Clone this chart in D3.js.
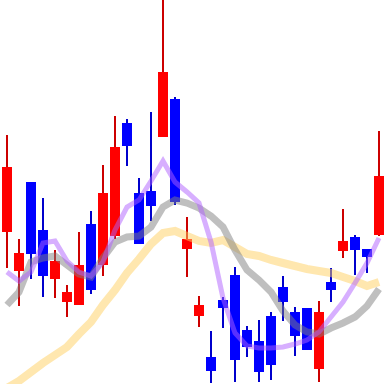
<!DOCTYPE html>
<html>
<head>
<meta charset="utf-8">
<script src="https://cdn.jsdelivr.net/npm/d3@7"></script>
<style>
  body { margin: 0; background: #fff; }
  svg { display: block; }
</style>
</head>
<body>
<div class="content-container"></div>
<script>
    // candle data (price units)
    const opens  = [152, 113, 202, 154, 105,  82,  79, 160, 119, 148, 261, 191, 193, 247, 285, 135,  68,  27,  84, 109,  54,  43,  68,  97,  72,  76,  15, 102, 133, 147, 135, 149];
    const highs  = [249, 145, 202, 186, 134,  99, 152, 173, 219, 268, 265, 206, 272, 394, 287, 167,  88,  53,  87, 117,  58,  64,  72, 108,  77,  76,  83, 116, 175, 149, 135, 253];
    const lows   = [116,  78, 105,  87,  86,  67,  79,  90, 108, 145, 218, 140, 163, 247, 179, 107,  57,   1,  56,   2,  27,   2,   4,  63,  28,  34,   2,  82, 126, 109, 111, 148];
    const closes = [217, 131, 130, 108, 123,  92, 119,  94, 191, 237, 238, 140, 178, 312, 182, 145,  79,  13,  76,  24,  37,  12,  19,  82,  48,  34,  72,  94, 143, 134, 127, 208];

    // moving averages at each candle
    const maShort = [112, 103, 112, 141, 143, 123, 112, 108, 122, 154, 177, 184, 203, 223, 202, 192, 181, 142,  86,  51,  38,  36,  36,  37,  40,  44,  52,  67,  82, 101, 121, 146];
    const maMid   = [ 79,  92, 122, 126, 128, 119, 110, 107, 126, 142, 147, 148, 157, 177, 184, 181, 176, 168, 157, 134, 114, 104,  92,  73,  59,  52,  50,  56,  61,  67,  78,  95];
    const maLong  = [ -4,   3,  12,  21,  29,  37,  50,  62,  79,  94, 111, 125, 140, 151, 153, 148, 143, 141, 144, 137, 130, 128, 124, 121, 118, 115, 113, 111, 107, 103,  98, 102];

    const width = 384;
    const height = 384;

    const candles = opens.map(function(o, i) {
      return { i: i, open: o, high: highs[i], low: lows[i], close: closes[i] };
    });

    //SCALES

    const xScale = d3.scaleBand()
                     .domain(d3.range(candles.length))
                     .range([1, width + 1])
                     .paddingInner(1 / 6)
                     .paddingOuter(1 / 12);

    const yScale = d3.scaleLinear()
                     .domain([0, 384])
                     .range([height, 0]);

    const cx = (i) => xScale(i) + xScale.bandwidth() / 2;

    const chart = d3.select(".content-container")
                  .append("svg")
                  .attr("width", width)
                  .attr("height", height);

    //CANDLES

    const up = (d) => d.close >= d.open;

    chart.selectAll(".wick")
      .data(candles)
      .enter()
      .append("line")
      .attr("class", "wick")
      .attr("x1", (d) => cx(d.i))
      .attr("x2", (d) => cx(d.i))
      .attr("y1", (d) => yScale(d.high))
      .attr("y2", (d) => yScale(d.low))
      .attr("stroke", (d) => up(d) ? "#cc0000" : "#0000cc")
      .attr("stroke-width", 2);

    chart.selectAll(".body")
      .data(candles)
      .enter()
      .append("rect")
      .attr("class", "body")
      .attr("x", (d) => xScale(d.i))
      .attr("y", (d) => yScale(Math.max(d.open, d.close)))
      .attr("width", xScale.bandwidth())
      .attr("height", (d) => Math.max(1, Math.abs(yScale(d.open) - yScale(d.close))))
      .attr("fill", (d) => up(d) ? "#ff0000" : "#0000ff");

    //MOVING AVERAGES

    const line = d3.line()
      .x((d, i) => cx(i))
      .y((d) => yScale(d));

    const mas = [
      { values: maLong,  color: "#ffd060", w: 8 },
      { values: maMid,   color: "#808080", w: 7 },
      { values: maShort, color: "#b060ff", w: 5 }
    ];

    mas.forEach(function(m) {
      chart.append("path")
        .attr("d", line(m.values))
        .attr("fill", "none")
        .attr("stroke", m.color)
        .attr("stroke-opacity", 0.5)
        .attr("stroke-width", m.w);
    });
</script>
</body>
</html>
